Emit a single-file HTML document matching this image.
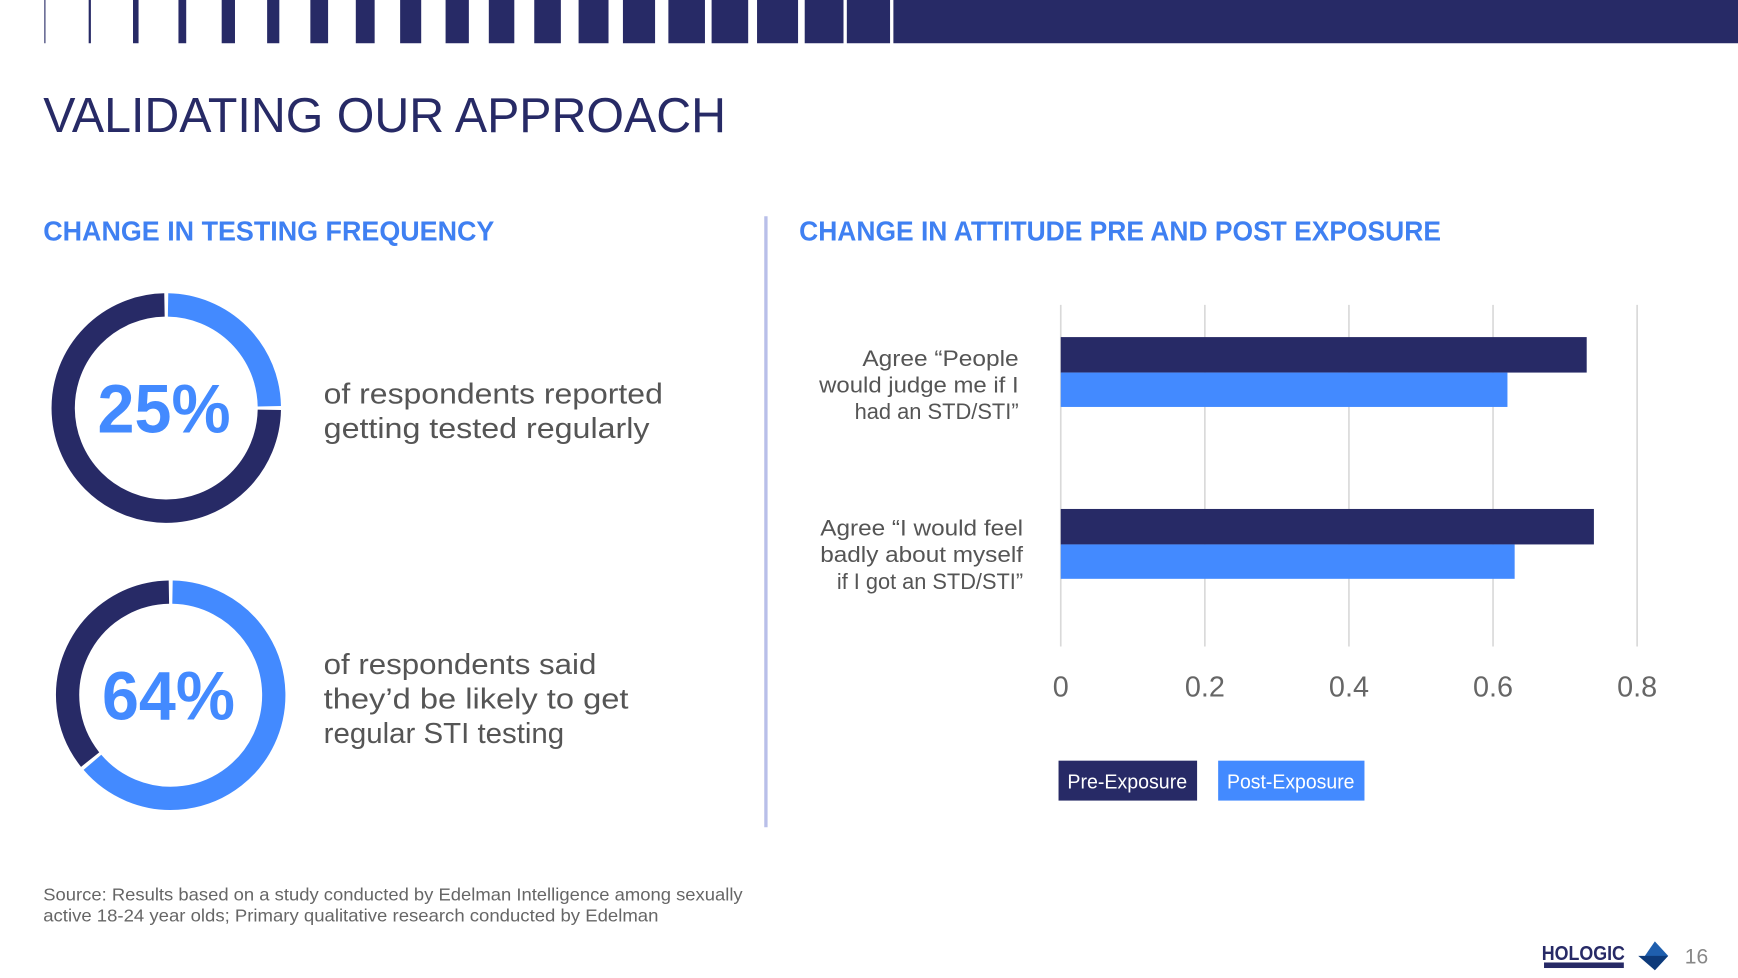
<!DOCTYPE html>
<html><head><meta charset="utf-8">
<style>
html,body{margin:0;padding:0;background:#fff;}
svg{display:block;font-family:"Liberation Sans",sans-serif;}
</style></head>
<body>
<svg id="slide" width="1738" height="978" viewBox="0 0 1568 882" preserveAspectRatio="none">
<g id="topbars"></g>
<text x="39" y="119" font-size="44" fill="#272a66" textLength="616" lengthAdjust="spacingAndGlyphs">VALIDATING OUR APPROACH</text>
<text x="39" y="217" font-size="25" font-weight="bold" fill="#3f80f2" textLength="407" lengthAdjust="spacingAndGlyphs">CHANGE IN TESTING FREQUENCY</text>
<text x="721" y="217" font-size="25" font-weight="bold" fill="#3f80f2" textLength="579" lengthAdjust="spacingAndGlyphs">CHANGE IN ATTITUDE PRE AND POST EXPOSURE</text>
<line x1="691" y1="195" x2="691" y2="746" stroke="#b9bfe9" stroke-width="3"/>
<g id="donuts"></g>
<g font-size="26" fill="#555">
<text x="292" y="364" textLength="306" lengthAdjust="spacingAndGlyphs">of respondents reported</text>
<text x="292" y="395" textLength="294" lengthAdjust="spacingAndGlyphs">getting tested regularly</text>
</g>
<g font-size="26" fill="#555">
<text x="292" y="608" textLength="246" lengthAdjust="spacingAndGlyphs">of respondents said</text>
<text x="292" y="639" textLength="275" lengthAdjust="spacingAndGlyphs">they’d be likely to get</text>
<text x="292" y="670" textLength="217" lengthAdjust="spacingAndGlyphs">regular STI testing</text>
</g>
<g id="chart"></g>
<rect x="955" y="686" width="125" height="36" fill="#272a66"/>
<text x="963" y="711" font-size="18" fill="#fff" textLength="108" lengthAdjust="spacingAndGlyphs">Pre-Exposure</text>
<rect x="1099" y="686" width="132" height="36" fill="#438aff"/>
<text x="1107" y="711" font-size="18" fill="#fff" textLength="115" lengthAdjust="spacingAndGlyphs">Post-Exposure</text>
<g font-size="16" fill="#666">
<text x="39" y="812" textLength="631" lengthAdjust="spacingAndGlyphs">Source: Results based on a study conducted by Edelman Intelligence among sexually</text>
<text x="39" y="831" textLength="555" lengthAdjust="spacingAndGlyphs">active 18-24 year olds; Primary qualitative research conducted by Edelman</text>
</g>
<g>
<text x="1391" y="866" font-size="18" font-weight="bold" fill="#272a66" textLength="75" lengthAdjust="spacingAndGlyphs">HOLOGIC</text>
<rect x="1393" y="868" width="72" height="5" fill="#272a66"/>
<polygon points="1493,849 1505,862 1493,875 1484,862" fill="#1f5fae"/>
<polygon points="1478,862 1505,862 1493,875" fill="#0d3a7a"/>
</g>
<text x="1520" y="869" font-size="19" fill="#888">16</text>
</svg>
<script>
const NS="http://www.w3.org/2000/svg";
const categoryLines=[["Agree “People","would judge me if I","had an STD/STI”"],["Agree “I would feel","badly about myself","if I got an STD/STI”"]];
const preValues=[0.73,0.74];
const postValues=[0.62,0.63];
const tickValues=[0,0.2,0.4,0.6,0.8];
const tickLabels=["0","0.2","0.4","0.6","0.8"];
const donutValues=[25,64];
const donutLabels=["25%","64%"];

function mk(tag,attrs,parent){const e=document.createElementNS(NS,tag);for(const k in attrs)e.setAttribute(k,attrs[k]);parent.appendChild(e);return e;}

const tb=document.getElementById('topbars');
const barEdges=[[40,41],[80,82],[120,125],[161,168],[200,212],[241,252],[280,296],[321,338],[361,380],[402,423],[441,464],[482,506],[522,549],[562,591],[603,636],[642,675],[683,720],[726,761],[764,803],[806,1568]];
barEdges.forEach(b=>{const r=mk('rect',{x:b[0],y:0,width:b[1]-b[0],height:39,fill:'#272a66'},tb);

});

const g=document.getElementById('chart');
const x0=957,unit=650;
const xs=v=>x0+v*unit;
const catTop=[304,459];
const labelWidths=[[141,180,148],[183,183,168]];
tickValues.forEach((v,i)=>{
 const l=mk('line',{x1:xs(v),x2:xs(v),y1:275,y2:583,stroke:'#d9d9d9','stroke-width':1.5},g);
 
 
 const t=mk('text',{x:xs(v),y:628,'font-size':26,fill:'#666','text-anchor':'middle'},g);
 t.textContent=tickLabels[i];
 
 
});
categoryLines.forEach((lines,i)=>{
 const y=catTop[i];
 const a=mk('rect',{x:x0,y:y,width:xs(preValues[i])-x0,height:32,fill:'#272a66'},g);
 
 
 const b=mk('rect',{x:x0,y:y+32,width:xs(postValues[i])-x0,height:31,fill:'#438aff'},g);
 
 
 lines.forEach((s,j)=>{
  const right=i==0?919:923;
  const w=labelWidths[i][j];
  const t=mk('text',{x:right-w,y:y+(i==0?26:24)+j*24,'font-size':20,fill:'#555',textLength:w,lengthAdjust:'spacingAndGlyphs'},g);
  t.textContent=s;
  
  
 });
});

const dg=document.getElementById('donuts');
const centers=[[150,368],[154,627]];
function arcPath(cx,cy,r,a0,a1){const p=a=>[cx+r*Math.sin(a*Math.PI/180),cy-r*Math.cos(a*Math.PI/180)];
 const s=p(a0),e=p(a1);const large=(a1-a0)>180?1:0;
 return `M${s[0]},${s[1]} A${r},${r} 0 ${large} 1 ${e[0]},${e[1]}`;}
donutValues.forEach((v,i)=>{
 const [cx,cy]=centers[i];const r=93,w=21,gap=1;
 const ang=v*3.6;
 const p1=mk('path',{d:arcPath(cx,cy,r,gap,ang-gap),stroke:'#438aff','stroke-width':w,fill:'none'},dg);
 
 
 const p2=mk('path',{d:arcPath(cx,cy,r,ang+gap,360-gap),stroke:'#272a66','stroke-width':w,fill:'none'},dg);
 
 
 const t=mk('text',{x:cx-2,y:cy+22,'font-size':62,'font-weight':'bold',fill:'#438aff','text-anchor':'middle',textLength:120,lengthAdjust:'spacingAndGlyphs'},dg);
 t.textContent=donutLabels[i];
 
 
});
</script>
</body></html>
